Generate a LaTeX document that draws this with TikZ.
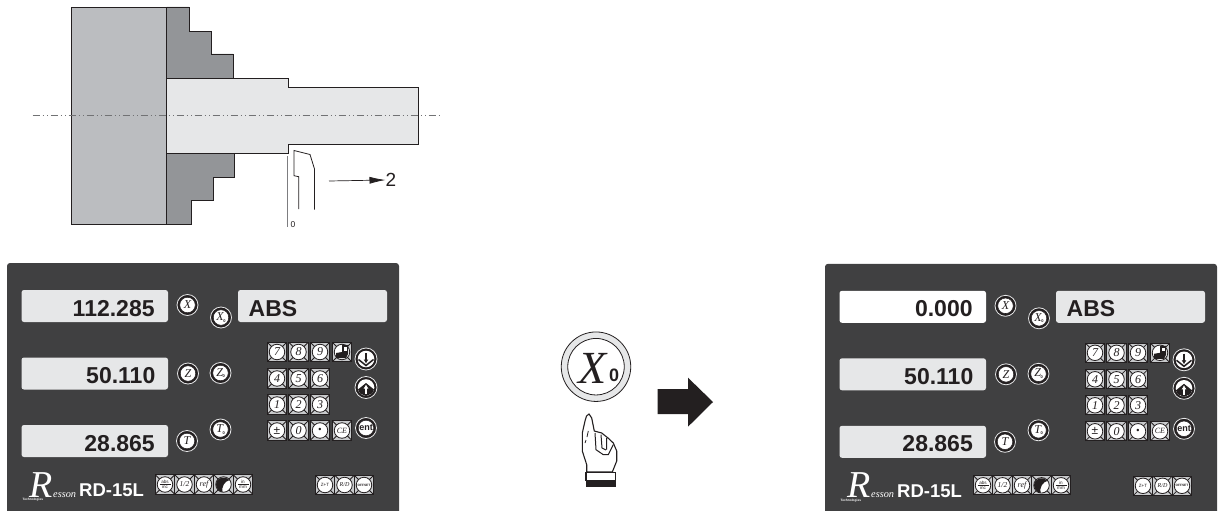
\documentclass[tikz,border=0pt]{standalone}
\usepackage{fontspec}
\setmainfont{Liberation Sans}
\newfontfamily\keyserif{Liberation Serif}
\usetikzlibrary{arrows.meta}
\definecolor{ink}{HTML}{231F20}
\definecolor{panelgray}{HTML}{404041}
\definecolor{lcd}{HTML}{E6E7E8}
\definecolor{chuck}{HTML}{BBBDC0}
\definecolor{jaw}{HTML}{939598}
\definecolor{corner}{HTML}{C8CACC}
\newcommand{\fs}[1]{\fontsize{#1}{#1}\selectfont}
\tikzset{
  x=1pt,y=-1pt,
  part/.style={draw=ink,line width=.9pt},
  display/.style={rounded corners=2.5pt,fill=lcd},
  readout/.style={anchor=base east,inner sep=0,font=\bfseries\fs{23},text=ink},
  keybg/.style={fill=corner,draw=ink,line width=1pt},
  keyface/.style={circle,fill=white,draw=ink,line width=.8pt,minimum size=15.5pt,inner sep=0,text=ink},
  btnring/.style={circle,fill=ink,draw=lcd,line width=.8pt,minimum size=21pt,inner sep=0},
  btnface/.style={circle,fill=white,draw=ink,line width=.5pt,minimum size=15.5pt,inner sep=0,text=ink,font=\keyserif\itshape\fs{12}},
  tiny/.style={inner sep=0,text=ink,font=\normalfont\fs{4.6}},
}
% square key: name, x, y, label
\newcommand{\sqkey}[4]{%
  \fill[keybg] (#2-9.6,#3-9.6) rectangle (#2+9.6,#3+9.6);
  \draw[ink,line width=.8pt] (#2-9.6,#3-9.6) -- (#2+9.6,#3+9.6) (#2-9.6,#3+9.6) -- (#2+9.6,#3-9.6);
  \node[keyface] (#1) at (#2,#3) {#4};}
% square key holding two stacked words: name, x, y, upper, lower
\newcommand{\fracKey}[5]{%
  \sqkey{#1}{#2}{#3}{}
  \node[tiny] (#1u) at (#2,#3-2.6) {#4};
  \node[tiny] (#1l) at (#2,#3+2.8) {#5};
  \draw[ink,line width=.6pt] (#2-5.5,#3) -- (#2+5.5,#3);}
% round button: name, x, y, label
\newcommand{\rbtn}[4]{%
  \node[btnring] (#1o) at (#2,#3) {};
  \node[btnface] (#1) at (#2,#3) {#4};}
\newcommand{\axsub}[1]{#1\raisebox{-1.5pt}{\hspace{-.4pt}\normalfont\bfseries\fs{4}0}}
\newcommand{\panelDRO}[3]{%
  % #1 prefix, #2 fill of first display, #3 first value
  \fill[panelgray,rounded corners=3pt] (7,263) rectangle (399,520);
  \fill[display,fill=#2] (21.5,290) rectangle (168,322);
  \fill[display] (21.5,357.5) rectangle (168,389.5);
  \fill[display] (21.5,425) rectangle (168,457);
  \fill[display] (238,290) rectangle (387,322);
  \node[readout] (#1valx) at (154.8,316) {#3};
  \node[readout] (#1valz) at (155.5,383.5) {50.110};
  \node[readout] (#1valt) at (155,451) {28.865};
  \node[anchor=base west,inner sep=0,font=\bfseries\fs{23},text=ink] (#1abs) at (248.5,316) {ABS};
  \rbtn{#1x}{187.5}{305}{X}
  \rbtn{#1z}{188}{373.5}{Z}
  \rbtn{#1t}{187}{441}{T}
  \rbtn{#1xo}{221}{317.5}{\axsub{X}}
  \rbtn{#1zo}{220.5}{373}{\axsub{Z}}
  \rbtn{#1to}{220.5}{429.5}{\axsub{T}}
  % keypad
  \begin{scope}[every node/.append style={font=\keyserif\itshape\fs{12}}]
  \sqkey{#1k7}{277}{352}{7}\sqkey{#1k8}{298.5}{352}{8}\sqkey{#1k9}{320}{352}{9}
  \sqkey{#1kf}{342}{352}{}
  \fill[ink] (#1kf.center) +(-6,6) -- +(4,6) -- +(6,2) -- +(6,-7) -- +(0,-7) -- +(0,0) -- +(-6,1) -- cycle;
  \fill[white] (#1kf.center) +(2,-5) rectangle +(4.5,-1.5);
  \sqkey{#1k4}{277}{378.5}{4}\sqkey{#1k5}{298.5}{378.5}{5}\sqkey{#1k6}{320}{378.5}{6}
  \sqkey{#1k1}{277}{404.5}{1}\sqkey{#1k2}{298.5}{404.5}{2}\sqkey{#1k3}{320}{404.5}{3}
  \sqkey{#1kpm}{277}{430.5}{\normalfont\fs{12}±}\sqkey{#1k0}{298.5}{430.5}{0}
  \sqkey{#1kdot}{320}{430.5}{\normalfont\fs{9}\textbullet}\sqkey{#1kce}{342}{430.5}{\fs{8}CE}
  \end{scope}
  % arrow and enter buttons
  \node[btnring,minimum size=22pt] (#1down) at (366,359) {};
  \begin{scope}[shift={(366,359)}]
    \fill[white] (0,0) circle[radius=8.3pt];
    \draw[ink,line width=1.5pt] (-7.5,.5) -- (0,6.5) -- (7.5,.5);
    \draw[ink,line width=1.2pt,-{Latex[length=4pt,width=5pt]}] (0,-6) -- (0,4.5);
  \end{scope}
  \node[btnring,minimum size=22pt] (#1up) at (366,387.5) {};
  \begin{scope}[shift={(366,387.5)}]
    \fill[white] (0,0) circle[radius=8.3pt];
    \fill[ink] (0,-4.5) -- (8,2) -- (6,6) -- (0,8.5) -- (-6,6) -- (-8,2) -- cycle;
    \draw[white,line width=1.2pt,-{Latex[length=4pt,width=5pt]}] (0,6.5) -- (0,-3);
  \end{scope}
  \rbtn{#1ent}{366}{428}{\normalfont\bfseries\fs{9}ent}
  % lower keys
  \fracKey{#1ai}{165}{484.5}{abs}{inc}
  \sqkey{#1half}{184.5}{484.5}{\keyserif\itshape\fs{7.5}1/2}
  \sqkey{#1ref}{204}{484.5}{\keyserif\itshape\fs{8}ref}
  \sqkey{#1rad}{223.5}{484.5}{}
  \begin{scope}[shift={(223.5,484.5)}]
    \fill[ink] (6,-4.5) .. controls (2,-9) and (-7,-8) .. (-7.5,0) .. controls (-7.5,4) and (-4,7.5) .. (-1,7.5) .. controls (-2,2) and (1,-3) .. cycle;
  \end{scope}
  \fracKey{#1imm}{243}{484.5}{in}{mm}
  \sqkey{#1zt}{325}{485}{\normalfont\fs{4.6}Z+T}
  \sqkey{#1rd}{344.5}{485}{\keyserif\itshape\fs{6}R/D}
  \sqkey{#1off}{364}{485}{\normalfont\bfseries\fs{3.2}OFFSET}
  % logo
  \node[anchor=base west,inner sep=0,text=white,font=\keyserif\itshape\fs{38}] (#1logo) at (29.5,497) {R};
  \node[anchor=base west,inner sep=0,text=white,font=\keyserif\itshape\fs{10.3}] (#1esson) at (53,497) {esson};
  \node[anchor=base west,inner sep=0,text=white,font=\normalfont\bfseries\fs{3.2}] (#1tech) at (22.5,500.5) {Technologies};
  \node[anchor=base west,inner sep=0,text=white,font=\normalfont\bfseries\fs{18.5}] (#1model) at (79,496.5) {RD-15L};
}
\begin{document}
\begin{tikzpicture}
\useasboundingbox (0,0) rectangle (1218,511);
\begin{scope}
\clip (0,0) rectangle (1218,511);
% lathe
\filldraw[part,fill=chuck] (71.5,7) rectangle (166.5,224);
\filldraw[part,fill=jaw,line width=.7pt] (166.5,7) -- (189,7) -- (189,31.5) -- (211,31.5) -- (211,54) -- (233,54) -- (233,78) -- (166.5,78) -- cycle;
\filldraw[part,fill=jaw,line width=.7pt] (166.5,153) -- (234,153) -- (234,177.5) -- (213,177.5) -- (213,200.5) -- (191,200.5) -- (191,224) -- (166.5,224) -- cycle;
\filldraw[part,fill=lcd] (166.5,78.5) -- (288,78.5) -- (288,87.5) -- (418,87.5) -- (418,144.5) -- (288,144.5) -- (288,153.5) -- (166.5,153.5) -- cycle;
\draw[jaw!70!ink,line width=1pt,dash pattern=on 7pt off 3pt on 1.5pt off 3pt on 1pt off 2.5pt] (32.5,115.7) -- (442,115.7);
\draw[jaw!80!ink,line width=.9pt] (287.7,156) -- (287.7,227);
\node[anchor=base west,inner sep=0,font=\fs{8.5},text=ink] (zero) at (290.5,227) {0};
\draw[ink,line width=.8pt] (298.7,209) -- (298.7,176.7) -- (294,175.7) -- (294,150.5) -- (310,154.5) -- (314.5,169) -- (314.5,209.5);
\coordinate (feed) at (329,181);
\node[anchor=west,inner sep=0,font=\fs{19},text=ink] (two) at (385.5,180) {2};
\draw[ink,line width=.7pt,-{Latex[length=16pt,width=7pt]}] (feed) -- (two.west);
% panels
\panelDRO{a}{lcd}{112.285}
\begin{scope}[shift={(818,0.8)}]
\panelDRO{b}{white}{0.000}
\end{scope}
% X0 key
\node[circle,fill=lcd,draw=ink,line width=.8pt,minimum size=69.5pt,inner sep=0] (bigo) at (596,366.7) {};
\node[circle,fill=white,draw=ink,line width=.8pt,minimum size=56.5pt,inner sep=0] (big) at (596,366.7) {};
\node[anchor=base west,inner sep=0,text=ink,font=\keyserif\itshape\fs{46}] (bigx) at (578,383) {X};
\node[anchor=base west,inner sep=0,text=ink,font=\normalfont\bfseries\fs{18}] (bigz) at (609,381.5) {0};
% hand
\filldraw[ink,fill=white,line width=1.1pt] (586.7,472) -- (586.7,464.7) -- (582.3,451) -- (582.3,433) -- (585,421) -- (586.5,416) -- (589,414) -- (591.7,418) -- (594.3,431) -- (601.7,433) -- (608,438) -- (613.3,443) -- (616.7,451) -- (616.7,461) -- (612.3,472) -- cycle;
\draw[ink,line width=1pt] (595,433) -- (596,449.7) -- (603.3,454.7) -- (608.3,454.7) -- (613.3,444.7) (601,434.7) -- (602,448) -- (606,450) (606.7,438) -- (606.7,449.7);
\draw[ink,line width=.8pt] (588.3,431) -- (587,437) (586,440) -- (585,443);
\filldraw[ink,fill=white,line width=1.1pt] (586,472.5) rectangle (615.7,480.5);
\fill[ink] (585.5,480.5) rectangle (616.2,487);
% big arrow
\fill[ink] (657.5,389) -- (688,389) -- (688,377.7) -- (713,402) -- (688,426.7) -- (688,414) -- (657.5,414) -- cycle;
\end{scope}
\end{tikzpicture}
\end{document}
